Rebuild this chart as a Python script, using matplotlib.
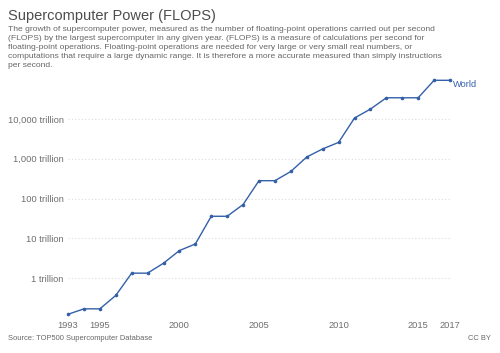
import matplotlib
matplotlib.use("Agg")
import matplotlib.pyplot as plt
from matplotlib.ticker import FixedLocator, NullLocator

plt.rcParams['font.family'] = ['Liberation Sans', 'DejaVu Sans']

# top supercomputer Rmax per year, in trillion FLOPS
years = [1993, 1994, 1995, 1996, 1997, 1998, 1999, 2000, 2001, 2002, 2003, 2004, 2005,
         2006, 2007, 2008, 2009, 2010, 2011, 2012, 2013, 2014, 2015, 2016, 2017]
flops = [0.124, 0.17, 0.17, 0.368, 1.338, 1.338, 2.379, 4.938, 7.226, 35.86, 35.86, 70.72, 280.6,
         280.6, 478.2, 1105, 1759, 2566, 10510, 17590, 33860, 33860, 33860, 93010, 93010]

ytick_vals = [1, 10, 100, 1000, 10000]
ytick_labels = ["1 trillion", "10 trillion", "100 trillion", "1,000 trillion", "10,000 trillion"]
xtick_vals = [1993, 1995, 2000, 2005, 2010, 2015, 2017]

title = "Supercomputer Power (FLOPS)"
subtitle = ("The growth of supercomputer power, measured as the number of floating-point operations carried out per second\n"
            "(FLOPS) by the largest supercomputer in any given year. (FLOPS) is a measure of calculations per second for\n"
            "floating-point operations. Floating-point operations are needed for very large or very small real numbers, or\n"
            "computations that require a large dynamic range. It is therefore a more accurate measured than simply instructions\n"
            "per second.")

blue = "#3360a9"
grey = "#666666"

W, H = 500, 353
fig = plt.figure(figsize=(W / 100, H / 100), dpi=100)
ax = fig.add_axes([68 / W, 1 - 314.3 / H, (450 - 68) / W, (314.3 - 80.3) / H])

ax.plot(years, flops, color=blue, lw=1, marker="o", ms=1.6, clip_on=False)
ax.set_yscale("log")
ax.set_xlim(1993, 2017)
ax.set_ylim(0.124, 93010)

ax.yaxis.set_major_locator(FixedLocator(ytick_vals))
ax.yaxis.set_minor_locator(NullLocator())
ax.set_yticklabels(ytick_labels)
ax.xaxis.set_major_locator(FixedLocator(xtick_vals))
ax.tick_params(length=0, labelsize=6.7, labelcolor="#6e6e6e")
ax.tick_params(axis="y", pad=3)
ax.tick_params(axis="x", pad=5)
ax.grid(axis="y", color="#dddddd", lw=0.8, ls=(0, (1, 2)))
for s in ax.spines.values():
    s.set_visible(False)

ax.annotate("World", xy=(years[-1], flops[-1]), xytext=(2, -3), textcoords="offset points",
            color=blue, fontsize=6.7, va="center", ha="left", annotation_clip=False)

fig.text(8 / W, 1 - 20 / H, title, fontsize=10.5, color="#4d4d4d", va="baseline")
fig.text(8 / W, 1 - 26 / H, subtitle, fontsize=6.1, color=grey, va="top", linespacing=1.42)
fig.text(8 / W, 1 - 339 / H, "Source: TOP500 Supercomputer Database", fontsize=5.4, color=grey, va="center")
fig.text(491 / W, 1 - 339 / H, "CC BY", fontsize=5.4, color=grey, va="center", ha="right")

fig.savefig("out.png", dpi=100)
